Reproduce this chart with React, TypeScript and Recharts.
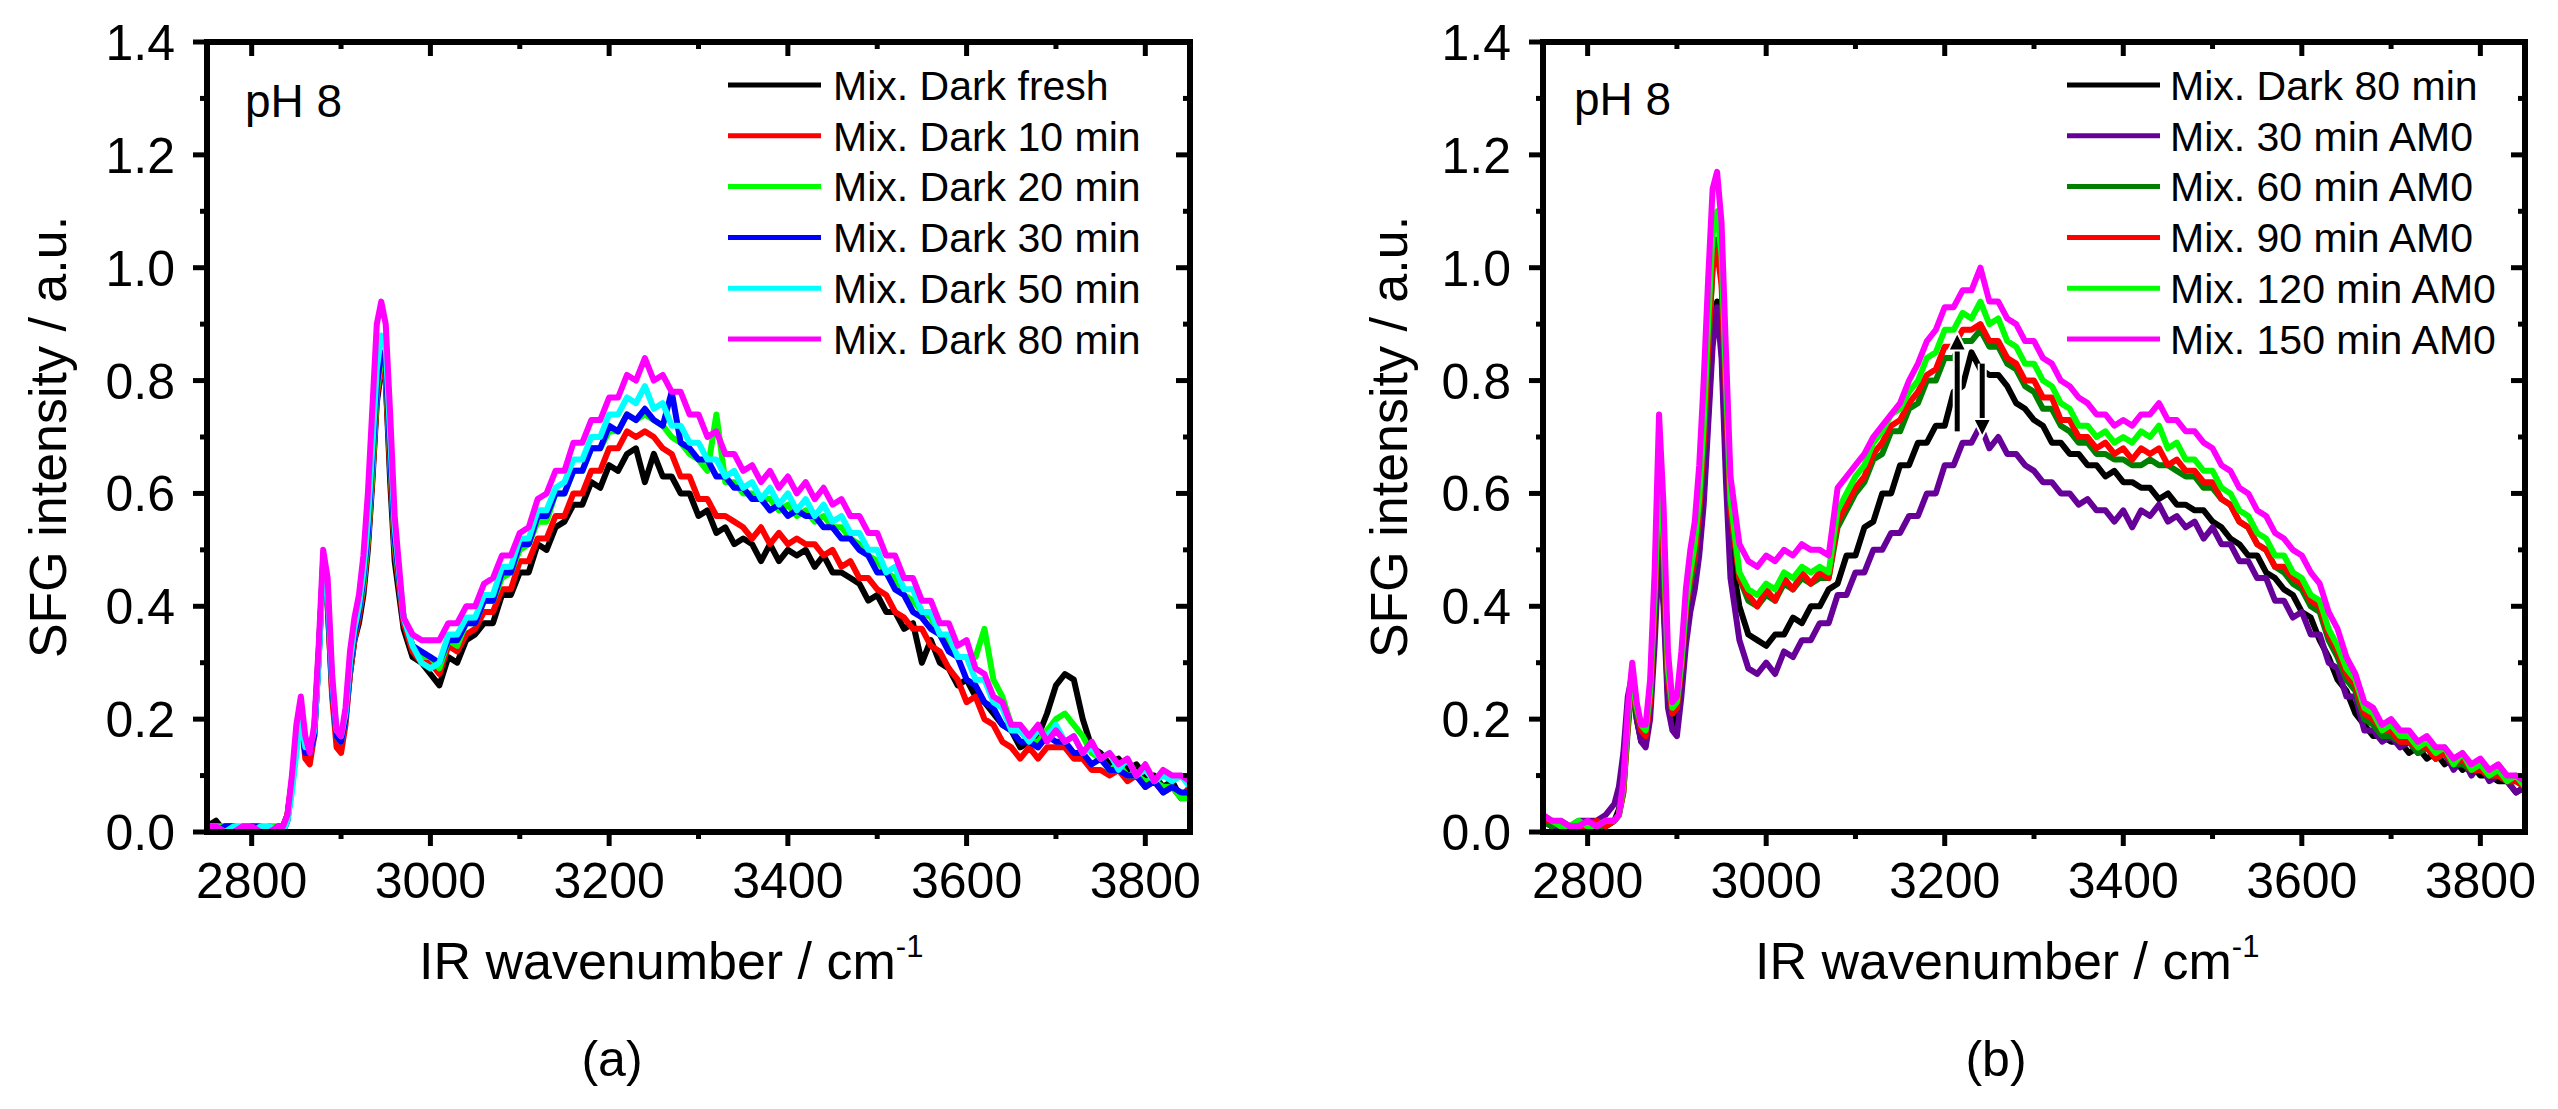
import { LineChart, Line, XAxis, YAxis, ReferenceLine } from "recharts";

const FONT = "Arial, 'Liberation Sans', sans-serif";

// wavenumber grid (cm-1): 10 cm-1 steps, 5 cm-1 across the CH peaks
const WAVENUMBER = [
  2750, 2760, 2770, 2780, 2790, 2800, 2810, 2820, 2830,
  2835, 2840, 2845, 2850, 2855, 2860, 2865, 2870, 2875, 2880,
  2885, 2890, 2895, 2900, 2905, 2910, 2915, 2920, 2925, 2930,
  2935, 2940, 2945, 2950, 2955, 2960,
  2970, 2980, 2990, 3000, 3010, 3020, 3030, 3040, 3050, 3060,
  3070, 3080, 3090, 3100, 3110, 3120, 3130, 3140, 3150, 3160,
  3170, 3180, 3190, 3200, 3210, 3220, 3230, 3240, 3250, 3260,
  3270, 3280, 3290, 3300, 3310, 3320, 3330, 3340, 3350, 3360,
  3370, 3380, 3390, 3400, 3410, 3420, 3430, 3440, 3450, 3460,
  3470, 3480, 3490, 3500, 3510, 3520, 3530, 3540, 3550, 3560,
  3570, 3580, 3590, 3600, 3610, 3620, 3630, 3640, 3650, 3660,
  3670, 3680, 3690, 3700, 3710, 3720, 3730, 3740, 3750, 3760,
  3770, 3780, 3790, 3800, 3810, 3820, 3830, 3840, 3850,
];

const X_MAJOR = [2800, 3000, 3200, 3400, 3600, 3800];
const X_MINOR = [2900, 3100, 3300, 3500, 3700];
const Y_MAJOR = [0, 0.2, 0.4, 0.6, 0.8, 1.0, 1.2, 1.4];
const Y_MINOR = [0.1, 0.3, 0.5, 0.7, 0.9, 1.1, 1.3];

// ---- panel (a): dark series ----
const A_FRESH = [
  0.01, 0.02, 0.00, 0.01, 0.00, 0.01, 0.00, 0.01, 0.00,
  0.01, 0.03, 0.09, 0.16, 0.20, 0.14, 0.13, 0.18, 0.32, 0.47,
  0.40, 0.25, 0.17, 0.16, 0.20, 0.28, 0.34, 0.37, 0.42, 0.50,
  0.62, 0.76, 0.82, 0.80, 0.62, 0.48,
  0.36, 0.31, 0.30, 0.28, 0.26, 0.31, 0.30, 0.34, 0.35, 0.37,
  0.37, 0.42, 0.42, 0.46, 0.46, 0.51, 0.50, 0.54, 0.55, 0.58,
  0.58, 0.62, 0.61, 0.65, 0.64, 0.67, 0.68, 0.62, 0.67, 0.63,
  0.63, 0.60, 0.60, 0.56, 0.57, 0.53, 0.54, 0.51, 0.52, 0.51,
  0.48, 0.51, 0.48, 0.50, 0.49, 0.50, 0.47, 0.49, 0.46, 0.46,
  0.45, 0.44, 0.41, 0.42, 0.39, 0.39, 0.36, 0.37, 0.30, 0.34,
  0.30, 0.29, 0.26, 0.27, 0.24, 0.23, 0.21, 0.19, 0.18, 0.15,
  0.16, 0.17, 0.21, 0.26, 0.28, 0.27, 0.20, 0.15, 0.14, 0.12,
  0.13, 0.11, 0.12, 0.10, 0.10, 0.08, 0.09, 0.06, 0.08,
];
const A_10 = [
  0.01, 0.00, 0.01, 0.01, 0.00, 0.01, 0.00, 0.00, 0.01,
  0.01, 0.03, 0.09, 0.16, 0.21, 0.13, 0.12, 0.17, 0.31, 0.47,
  0.41, 0.24, 0.15, 0.14, 0.19, 0.28, 0.34, 0.38, 0.43, 0.51,
  0.63, 0.77, 0.83, 0.80, 0.64, 0.50,
  0.37, 0.32, 0.30, 0.30, 0.28, 0.33, 0.32, 0.35, 0.36, 0.39,
  0.39, 0.43, 0.43, 0.48, 0.48, 0.52, 0.52, 0.56, 0.56, 0.60,
  0.60, 0.64, 0.64, 0.68, 0.68, 0.71, 0.70, 0.71, 0.70, 0.68,
  0.67, 0.63, 0.63, 0.59, 0.59, 0.56, 0.56, 0.55, 0.54, 0.52,
  0.54, 0.51, 0.53, 0.51, 0.52, 0.51, 0.51, 0.49, 0.50, 0.47,
  0.48, 0.45, 0.45, 0.43, 0.42, 0.39, 0.38, 0.36, 0.36, 0.33,
  0.32, 0.29, 0.27, 0.23, 0.24, 0.20, 0.19, 0.16, 0.15, 0.13,
  0.15, 0.13, 0.15, 0.15, 0.15, 0.13, 0.13, 0.11, 0.11, 0.10,
  0.11, 0.09, 0.10, 0.08, 0.09, 0.07, 0.08, 0.06, 0.08,
];
const A_20 = [
  0.01, 0.01, 0.01, 0.00, 0.01, 0.01, 0.00, 0.01, 0.01,
  0.00, 0.02, 0.08, 0.15, 0.21, 0.15, 0.14, 0.17, 0.31, 0.48,
  0.42, 0.26, 0.17, 0.16, 0.20, 0.29, 0.35, 0.39, 0.44, 0.52,
  0.64, 0.78, 0.84, 0.82, 0.66, 0.51,
  0.38, 0.33, 0.31, 0.31, 0.29, 0.34, 0.33, 0.37, 0.37, 0.41,
  0.41, 0.45, 0.46, 0.50, 0.51, 0.55, 0.55, 0.60, 0.60, 0.64,
  0.64, 0.68, 0.68, 0.71, 0.71, 0.74, 0.73, 0.74, 0.73, 0.72,
  0.70, 0.69, 0.67, 0.66, 0.64, 0.74, 0.62, 0.62, 0.60, 0.60,
  0.59, 0.59, 0.57, 0.58, 0.56, 0.57, 0.55, 0.56, 0.54, 0.54,
  0.52, 0.51, 0.49, 0.48, 0.46, 0.45, 0.42, 0.41, 0.39, 0.38,
  0.35, 0.34, 0.31, 0.31, 0.31, 0.36, 0.27, 0.24, 0.19, 0.18,
  0.16, 0.16, 0.18, 0.20, 0.21, 0.19, 0.17, 0.14, 0.13, 0.11,
  0.12, 0.10, 0.10, 0.09, 0.09, 0.08, 0.08, 0.06, 0.06,
];
const A_30 = [
  0.01, 0.00, 0.01, 0.01, 0.00, 0.01, 0.01, 0.00, 0.01,
  0.00, 0.02, 0.08, 0.15, 0.20, 0.14, 0.14, 0.17, 0.31, 0.48,
  0.42, 0.26, 0.17, 0.16, 0.20, 0.29, 0.35, 0.39, 0.45, 0.53,
  0.66, 0.79, 0.85, 0.83, 0.67, 0.52,
  0.38, 0.33, 0.32, 0.31, 0.30, 0.34, 0.34, 0.37, 0.37, 0.41,
  0.41, 0.46, 0.46, 0.51, 0.51, 0.56, 0.56, 0.60, 0.60, 0.64,
  0.64, 0.68, 0.68, 0.72, 0.71, 0.74, 0.73, 0.75, 0.73, 0.72,
  0.78, 0.69, 0.68, 0.66, 0.66, 0.63, 0.63, 0.61, 0.61, 0.59,
  0.59, 0.57, 0.58, 0.56, 0.57, 0.56, 0.56, 0.54, 0.54, 0.52,
  0.52, 0.50, 0.49, 0.46, 0.46, 0.43, 0.42, 0.39, 0.38, 0.36,
  0.35, 0.32, 0.31, 0.27, 0.26, 0.23, 0.22, 0.19, 0.18, 0.16,
  0.16, 0.15, 0.17, 0.16, 0.16, 0.14, 0.14, 0.12, 0.13, 0.11,
  0.11, 0.10, 0.10, 0.08, 0.09, 0.07, 0.08, 0.07, 0.07,
];
const A_50 = [
  0.01, 0.01, 0.00, 0.01, 0.01, 0.00, 0.01, 0.01, 0.00,
  0.00, 0.02, 0.07, 0.14, 0.20, 0.15, 0.15, 0.18, 0.30, 0.47,
  0.43, 0.27, 0.18, 0.17, 0.21, 0.30, 0.36, 0.40, 0.46, 0.55,
  0.68, 0.82, 0.88, 0.86, 0.70, 0.54,
  0.38, 0.33, 0.30, 0.29, 0.30, 0.35, 0.35, 0.38, 0.38, 0.42,
  0.42, 0.47, 0.47, 0.52, 0.52, 0.57, 0.57, 0.61, 0.62, 0.66,
  0.66, 0.70, 0.70, 0.74, 0.74, 0.77, 0.76, 0.79, 0.75, 0.76,
  0.72, 0.72, 0.69, 0.69, 0.66, 0.66, 0.63, 0.64, 0.61, 0.62,
  0.59, 0.61, 0.58, 0.60, 0.57, 0.59, 0.56, 0.58, 0.55, 0.56,
  0.53, 0.53, 0.50, 0.50, 0.46, 0.47, 0.43, 0.43, 0.39, 0.39,
  0.35, 0.35, 0.31, 0.31, 0.27, 0.27, 0.23, 0.22, 0.18, 0.18,
  0.16, 0.18, 0.17, 0.19, 0.16, 0.17, 0.14, 0.15, 0.13, 0.14,
  0.11, 0.13, 0.10, 0.11, 0.09, 0.10, 0.09, 0.10, 0.08,
];
const A_80 = [
  0.01, 0.01, 0.00, 0.00, 0.01, 0.01, 0.00, 0.00, 0.01,
  0.01, 0.03, 0.10, 0.19, 0.24, 0.17, 0.14, 0.19, 0.33, 0.50,
  0.45, 0.28, 0.18, 0.17, 0.22, 0.32, 0.38, 0.42, 0.49, 0.60,
  0.75, 0.90, 0.94, 0.90, 0.74, 0.56,
  0.38, 0.35, 0.34, 0.34, 0.34, 0.37, 0.37, 0.40, 0.40, 0.44,
  0.45, 0.49, 0.49, 0.53, 0.54, 0.59, 0.60, 0.64, 0.64, 0.69,
  0.69, 0.73, 0.73, 0.77, 0.77, 0.81, 0.80, 0.84, 0.80, 0.81,
  0.78, 0.78, 0.74, 0.74, 0.70, 0.71, 0.67, 0.67, 0.64, 0.65,
  0.62, 0.64, 0.61, 0.63, 0.60, 0.62, 0.59, 0.61, 0.58, 0.59,
  0.56, 0.56, 0.53, 0.53, 0.49, 0.49, 0.45, 0.45, 0.41, 0.41,
  0.37, 0.37, 0.33, 0.34, 0.29, 0.28, 0.24, 0.23, 0.19, 0.19,
  0.17, 0.19, 0.16, 0.18, 0.16, 0.17, 0.14, 0.16, 0.13, 0.14,
  0.12, 0.13, 0.10, 0.12, 0.09, 0.11, 0.10, 0.10, 0.09,
];

// ---- panel (b): illuminated series ----
const B_DARK80 = [
  0.02, 0.01, 0.01, 0.01, 0.00, 0.01, 0.01, 0.01, 0.02,
  0.04, 0.08, 0.20, 0.26, 0.20, 0.16, 0.16, 0.22, 0.36, 0.53,
  0.42, 0.24, 0.19, 0.20, 0.27, 0.36, 0.41, 0.44, 0.50, 0.60,
  0.74, 0.88, 0.94, 0.86, 0.66, 0.50,
  0.40, 0.35, 0.34, 0.33, 0.35, 0.35, 0.38, 0.37, 0.40, 0.40,
  0.43, 0.44, 0.49, 0.49, 0.54, 0.55, 0.60, 0.60, 0.65, 0.65,
  0.69, 0.69, 0.72, 0.72, 0.78, 0.79, 0.85, 0.82, 0.81, 0.81,
  0.79, 0.76, 0.75, 0.73, 0.72, 0.69, 0.69, 0.67, 0.67, 0.65,
  0.65, 0.63, 0.64, 0.62, 0.62, 0.61, 0.61, 0.59, 0.60, 0.58,
  0.58, 0.57, 0.57, 0.55, 0.54, 0.52, 0.51, 0.49, 0.49, 0.46,
  0.45, 0.43, 0.42, 0.39, 0.38, 0.34, 0.31, 0.27, 0.25, 0.21,
  0.19, 0.17, 0.17, 0.16, 0.16, 0.14, 0.15, 0.13, 0.14, 0.12,
  0.13, 0.11, 0.12, 0.10, 0.10, 0.09, 0.09, 0.07, 0.08,
];
const B_30 = [
  0.02, 0.01, 0.01, 0.01, 0.02, 0.02, 0.02, 0.03, 0.05,
  0.08, 0.14, 0.24, 0.28, 0.20, 0.16, 0.15, 0.20, 0.33, 0.50,
  0.40, 0.22, 0.18, 0.17, 0.24, 0.33, 0.39, 0.43, 0.49, 0.58,
  0.72, 0.86, 0.93, 0.84, 0.62, 0.45,
  0.34, 0.29, 0.28, 0.30, 0.28, 0.32, 0.31, 0.34, 0.34, 0.37,
  0.37, 0.42, 0.42, 0.46, 0.46, 0.50, 0.50, 0.53, 0.53, 0.56,
  0.56, 0.60, 0.60, 0.65, 0.65, 0.69, 0.69, 0.72, 0.68, 0.70,
  0.67, 0.67, 0.65, 0.64, 0.62, 0.62, 0.60, 0.60, 0.58, 0.59,
  0.57, 0.57, 0.55, 0.57, 0.54, 0.57, 0.56, 0.58, 0.55, 0.56,
  0.54, 0.55, 0.52, 0.54, 0.51, 0.51, 0.48, 0.48, 0.45, 0.45,
  0.41, 0.41, 0.38, 0.39, 0.35, 0.35, 0.30, 0.29, 0.24, 0.24,
  0.18, 0.18, 0.16, 0.17, 0.15, 0.16, 0.14, 0.15, 0.13, 0.14,
  0.11, 0.13, 0.10, 0.12, 0.09, 0.10, 0.09, 0.07, 0.08,
];
const B_60 = [
  0.02, 0.01, 0.02, 0.01, 0.01, 0.01, 0.01, 0.01, 0.02,
  0.03, 0.07, 0.18, 0.27, 0.21, 0.18, 0.18, 0.24, 0.40, 0.60,
  0.48, 0.27, 0.21, 0.22, 0.29, 0.39, 0.44, 0.48, 0.56, 0.68,
  0.85, 1.00, 1.05, 0.98, 0.78, 0.58,
  0.45, 0.41, 0.40, 0.42, 0.41, 0.44, 0.43, 0.45, 0.44, 0.45,
  0.45, 0.54, 0.57, 0.60, 0.62, 0.66, 0.67, 0.71, 0.71, 0.75,
  0.76, 0.80, 0.80, 0.84, 0.84, 0.87, 0.87, 0.89, 0.86, 0.86,
  0.83, 0.82, 0.79, 0.78, 0.75, 0.75, 0.72, 0.71, 0.69, 0.69,
  0.67, 0.67, 0.66, 0.66, 0.65, 0.65, 0.66, 0.65, 0.65, 0.64,
  0.63, 0.63, 0.61, 0.61, 0.59, 0.58, 0.55, 0.54, 0.51, 0.50,
  0.47, 0.46, 0.44, 0.43, 0.40, 0.39, 0.34, 0.31, 0.27, 0.25,
  0.20, 0.19, 0.17, 0.17, 0.16, 0.16, 0.14, 0.15, 0.13, 0.14,
  0.12, 0.12, 0.11, 0.11, 0.10, 0.10, 0.09, 0.09, 0.08,
];
const B_90 = [
  0.02, 0.02, 0.01, 0.01, 0.01, 0.01, 0.02, 0.01, 0.02,
  0.03, 0.07, 0.19, 0.28, 0.22, 0.18, 0.17, 0.23, 0.40, 0.61,
  0.49, 0.27, 0.21, 0.22, 0.29, 0.39, 0.45, 0.49, 0.57, 0.69,
  0.86, 1.00, 1.03, 0.97, 0.77, 0.57,
  0.45, 0.42, 0.40, 0.43, 0.41, 0.45, 0.43, 0.46, 0.44, 0.46,
  0.45, 0.55, 0.58, 0.61, 0.63, 0.67, 0.69, 0.72, 0.73, 0.76,
  0.78, 0.81, 0.82, 0.86, 0.86, 0.89, 0.89, 0.90, 0.87, 0.87,
  0.84, 0.83, 0.80, 0.80, 0.77, 0.77, 0.73, 0.73, 0.70, 0.70,
  0.68, 0.69, 0.67, 0.68, 0.66, 0.68, 0.67, 0.68, 0.65, 0.66,
  0.64, 0.64, 0.62, 0.62, 0.59, 0.58, 0.55, 0.54, 0.51, 0.50,
  0.47, 0.47, 0.45, 0.44, 0.41, 0.40, 0.35, 0.32, 0.28, 0.26,
  0.21, 0.20, 0.18, 0.18, 0.16, 0.16, 0.15, 0.15, 0.13, 0.14,
  0.12, 0.13, 0.11, 0.11, 0.10, 0.10, 0.09, 0.09, 0.08,
];
const B_120 = [
  0.03, 0.02, 0.01, 0.01, 0.02, 0.01, 0.01, 0.02, 0.02,
  0.03, 0.08, 0.20, 0.29, 0.22, 0.19, 0.18, 0.25, 0.42, 0.64,
  0.52, 0.29, 0.22, 0.23, 0.30, 0.40, 0.46, 0.51, 0.59, 0.72,
  0.90, 1.06, 1.10, 1.02, 0.80, 0.59,
  0.46, 0.43, 0.42, 0.44, 0.43, 0.46, 0.45, 0.47, 0.46, 0.47,
  0.46, 0.57, 0.60, 0.63, 0.65, 0.69, 0.71, 0.74, 0.75, 0.78,
  0.80, 0.84, 0.85, 0.89, 0.89, 0.92, 0.91, 0.94, 0.90, 0.91,
  0.87, 0.86, 0.83, 0.83, 0.80, 0.79, 0.76, 0.75, 0.72, 0.72,
  0.70, 0.71, 0.69, 0.70, 0.69, 0.71, 0.70, 0.72, 0.68, 0.69,
  0.66, 0.66, 0.64, 0.64, 0.61, 0.60, 0.57, 0.56, 0.53, 0.52,
  0.49, 0.49, 0.46, 0.45, 0.42, 0.41, 0.36, 0.33, 0.29, 0.27,
  0.22, 0.21, 0.18, 0.19, 0.17, 0.17, 0.15, 0.16, 0.14, 0.15,
  0.12, 0.14, 0.11, 0.12, 0.10, 0.11, 0.09, 0.10, 0.08,
];
const B_150 = [
  0.03, 0.02, 0.02, 0.01, 0.01, 0.02, 0.01, 0.02, 0.02,
  0.03, 0.09, 0.22, 0.30, 0.23, 0.19, 0.19, 0.27, 0.46, 0.74,
  0.58, 0.32, 0.23, 0.24, 0.32, 0.43, 0.50, 0.55, 0.65, 0.80,
  0.98, 1.14, 1.17, 1.08, 0.85, 0.63,
  0.51, 0.48, 0.47, 0.49, 0.48, 0.50, 0.49, 0.51, 0.50, 0.50,
  0.49, 0.61, 0.63, 0.65, 0.67, 0.70, 0.72, 0.74, 0.76, 0.80,
  0.83, 0.87, 0.89, 0.93, 0.93, 0.96, 0.96, 1.00, 0.94, 0.94,
  0.91, 0.90, 0.87, 0.87, 0.84, 0.83, 0.80, 0.79, 0.77, 0.76,
  0.74, 0.74, 0.72, 0.73, 0.72, 0.74, 0.74, 0.76, 0.73, 0.73,
  0.71, 0.71, 0.69, 0.68, 0.65, 0.64, 0.61, 0.60, 0.57, 0.56,
  0.53, 0.52, 0.50, 0.49, 0.46, 0.44, 0.39, 0.36, 0.31, 0.28,
  0.23, 0.22, 0.19, 0.20, 0.18, 0.18, 0.16, 0.17, 0.15, 0.15,
  0.13, 0.14, 0.12, 0.13, 0.11, 0.12, 0.10, 0.10, 0.09,
];

// the two arrows drawn over the 3200 cm-1 band in (b): [wavenumber, from, to]
const ARROWS_B = [
  [3214, 0.71, 0.885],
  [3242, 0.83, 0.70],
];

const PANEL_A = [
  { key: "a0", name: "Mix. Dark fresh", color: "#000000", values: A_FRESH },
  { key: "a1", name: "Mix. Dark 10 min", color: "#ff0000", values: A_10 },
  { key: "a2", name: "Mix. Dark 20 min", color: "#00ff00", values: A_20 },
  { key: "a3", name: "Mix. Dark 30 min", color: "#0000ff", values: A_30 },
  { key: "a4", name: "Mix. Dark 50 min", color: "#00ffff", values: A_50 },
  { key: "a5", name: "Mix. Dark 80 min", color: "#ff00ff", values: A_80 },
];

const PANEL_B = [
  { key: "b0", name: "Mix. Dark 80 min", color: "#000000", values: B_DARK80 },
  { key: "b1", name: "Mix. 30 min AM0", color: "#660099", values: B_30 },
  { key: "b2", name: "Mix. 60 min AM0", color: "#008000", values: B_60 },
  { key: "b3", name: "Mix. 90 min AM0", color: "#ff0000", values: B_90 },
  { key: "b4", name: "Mix. 120 min AM0", color: "#00ff00", values: B_120 },
  { key: "b5", name: "Mix. 150 min AM0", color: "#ff00ff", values: B_150 },
];

const X_TICKS = [...X_MAJOR, ...X_MINOR].sort((a, b) => a - b);
const Y_TICKS = [...Y_MAJOR, ...Y_MINOR].sort((a, b) => a - b);

const MAJOR_LEN = 14;
const MINOR_LEN = 7;
const TICK_W = 5;
const AXIS_LINE = { stroke: "#000", strokeWidth: 6, strokeLinecap: "square" as const };

const isMajorX = (v: number) => X_MAJOR.includes(v);
const isMajorY = (v: number) => Y_MAJOR.some((m) => Math.abs(m - v) < 1e-6);

// tickSize/tickMargin are 0 on every axis, so (x, y) below is the point on the axis line
function BottomTick(props: any) {
  const { x, y, payload } = props;
  const major = isMajorX(payload.value);
  return (
    <g>
      <line x1={x} x2={x} y1={y} y2={y + (major ? MAJOR_LEN : MINOR_LEN)} stroke="#000" strokeWidth={TICK_W} />
      {major && (
        <text x={x} y={y + 66} textAnchor="middle" fontSize={50} fontFamily={FONT} fill="#000">
          {payload.value}
        </text>
      )}
    </g>
  );
}

function TopTick(props: any) {
  const { x, y, payload } = props;
  const len = isMajorX(payload.value) ? MAJOR_LEN : MINOR_LEN;
  return <line x1={x} x2={x} y1={y} y2={y + len} stroke="#000" strokeWidth={TICK_W} />;
}

function LeftTick(props: any) {
  const { x, y, payload } = props;
  const major = isMajorY(payload.value);
  return (
    <g>
      <line x1={x} x2={x - (major ? MAJOR_LEN : MINOR_LEN)} y1={y} y2={y} stroke="#000" strokeWidth={TICK_W} />
      {major && (
        <text x={x - 32} y={y} dy="0.36em" textAnchor="end" fontSize={50} fontFamily={FONT} fill="#000">
          {Number(payload.value).toFixed(1)}
        </text>
      )}
    </g>
  );
}

function RightTick(props: any) {
  const { x, y, payload } = props;
  const len = isMajorY(payload.value) ? MAJOR_LEN : MINOR_LEN;
  return <line x1={x} x2={x - len} y1={y} y2={y} stroke="#000" strokeWidth={TICK_W} />;
}

function ArrowShape(props: any) {
  const { x1, y1, x2, y2 } = props;
  const dir = y2 < y1 ? -1 : 1;
  const head = 18;
  const half = 9;
  const baseY = y2 - dir * head;
  return (
    <g>
      <line x1={x1} y1={y1} x2={x2} y2={baseY} stroke="#fff" strokeWidth={9} />
      <line x1={x1} y1={y1} x2={x2} y2={baseY} stroke="#000" strokeWidth={5} />
      <polygon
        points={`${x2},${y2} ${x2 - half},${baseY} ${x2 + half},${baseY}`}
        fill="#000"
        stroke="#fff"
        strokeWidth={2}
      />
    </g>
  );
}

type Series = { key: string; name: string; color: string; values: number[] };

function buildRows(series: Series[]) {
  return WAVENUMBER.map((w, i) => {
    const row: Record<string, number> = { w };
    series.forEach((s) => {
      row[s.key] = s.values[i];
    });
    return row;
  });
}

interface PanelProps {
  series: Series[];
  left: number;
  width: number;
  margin: { top: number; right: number; bottom: number; left: number };
  arrows?: number[][];
}

function SpectrumPanel({ series, left, width, margin, arrows = [] }: PanelProps) {
  const rows = buildRows(series);
  const xCommon = {
    dataKey: "w",
    type: "number" as const,
    domain: [2750, 3850],
    ticks: X_TICKS,
    interval: 0,
    height: 1,
    tickSize: 0,
    tickMargin: 0,
    tickLine: false,
    axisLine: AXIS_LINE,
    allowDataOverflow: true,
  };
  const yCommon = {
    type: "number" as const,
    domain: [0, 1.4],
    ticks: Y_TICKS,
    interval: 0,
    width: 1,
    tickSize: 0,
    tickMargin: 0,
    tickLine: false,
    axisLine: AXIS_LINE,
    allowDataOverflow: true,
  };
  return (
    <div style={{ position: "absolute", left, top: 0 }}>
      <LineChart width={width} height={1109} data={rows} margin={margin} style={{ overflow: "visible" }}>
        {series.map((s) => (
          <Line
            key={s.key}
            xAxisId="b"
            yAxisId="l"
            type="linear"
            dataKey={s.key}
            name={s.name}
            stroke={s.color}
            strokeWidth={6}
            strokeLinejoin="round"
            dot={false}
            activeDot={false}
            isAnimationActive={false}
          />
        ))}
        <XAxis xAxisId="b" orientation="bottom" {...xCommon} tick={BottomTick} />
        <XAxis xAxisId="t" orientation="top" {...xCommon} tick={TopTick} />
        <YAxis yAxisId="l" orientation="left" {...yCommon} tick={LeftTick} />
        <YAxis yAxisId="r" orientation="right" {...yCommon} tick={RightTick} />
        {arrows.map(([w, from, to], i) => (
          <ReferenceLine
            key={`arrow-${i}`}
            xAxisId="b"
            yAxisId="l"
            ifOverflow="visible"
            segment={[{ x: w, y: from }, { x: w, y: to }]}
            shape={ArrowShape}
          />
        ))}
      </LineChart>
    </div>
  );
}

const LEGEND_TOP = 85;
const LEGEND_STEP = 50.8;

function LegendBlock({ series, lineX, textX }: { series: Series[]; lineX: number; textX: number }) {
  return (
    <g>
      {series.map((s, i) => {
        const cy = LEGEND_TOP + i * LEGEND_STEP;
        return (
          <g key={s.key}>
            <line x1={lineX} x2={lineX + 93} y1={cy} y2={cy} stroke={s.color} strokeWidth={5} />
            <text x={textX} y={cy} dy="0.36em" fontSize={41} fill="#000">
              {s.name}
            </text>
          </g>
        );
      })}
    </g>
  );
}

function Annotations() {
  return (
    <svg
      width={2558}
      height={1109}
      style={{ position: "absolute", left: 0, top: 0, pointerEvents: "none" }}
      fontFamily={FONT}
    >
      {/* panel (a) */}
      <text x={66} y={437} transform="rotate(-90 66 437)" textAnchor="middle" fontSize={52} fill="#000">
        SFG intensity / a.u.
      </text>
      <text x={419} y={979} fontSize={52} fill="#000">
        IR wavenumber / cm
        <tspan fontSize={31} dy={-22}>-1</tspan>
      </text>
      <text x={612} y={1076} textAnchor="middle" fontSize={50} fill="#000">(a)</text>
      <text x={245} y={117} fontSize={46} fill="#000">pH 8</text>
      <LegendBlock series={PANEL_A} lineX={728} textX={833} />

      {/* panel (b) */}
      <text x={1407} y={437} transform="rotate(-90 1407 437)" textAnchor="middle" fontSize={52} fill="#000">
        SFG intensity / a.u.
      </text>
      <text x={1755} y={979} fontSize={52} fill="#000">
        IR wavenumber / cm
        <tspan fontSize={31} dy={-22}>-1</tspan>
      </text>
      <text x={1996} y={1076} textAnchor="middle" fontSize={50} fill="#000">(b)</text>
      <text x={1574} y={115} fontSize={46} fill="#000">pH 8</text>
      <LegendBlock series={PANEL_B} lineX={2067} textX={2170} />
    </svg>
  );
}

export default function App() {
  return (
    <div
      style={{
        position: "absolute",
        left: 0,
        top: 0,
        width: 2558,
        height: 1109,
        background: "#fff",
        overflow: "hidden",
        fontFamily: FONT,
      }}
    >
      <SpectrumPanel
        series={PANEL_A}
        left={0}
        width={1250}
        margin={{ top: 41, right: 59, bottom: 276, left: 206 }}
      />
      <SpectrumPanel
        series={PANEL_B}
        left={1300}
        width={1258}
        margin={{ top: 41, right: 32, bottom: 276, left: 242 }}
        arrows={ARROWS_B}
      />
      <Annotations />
    </div>
  );
}
